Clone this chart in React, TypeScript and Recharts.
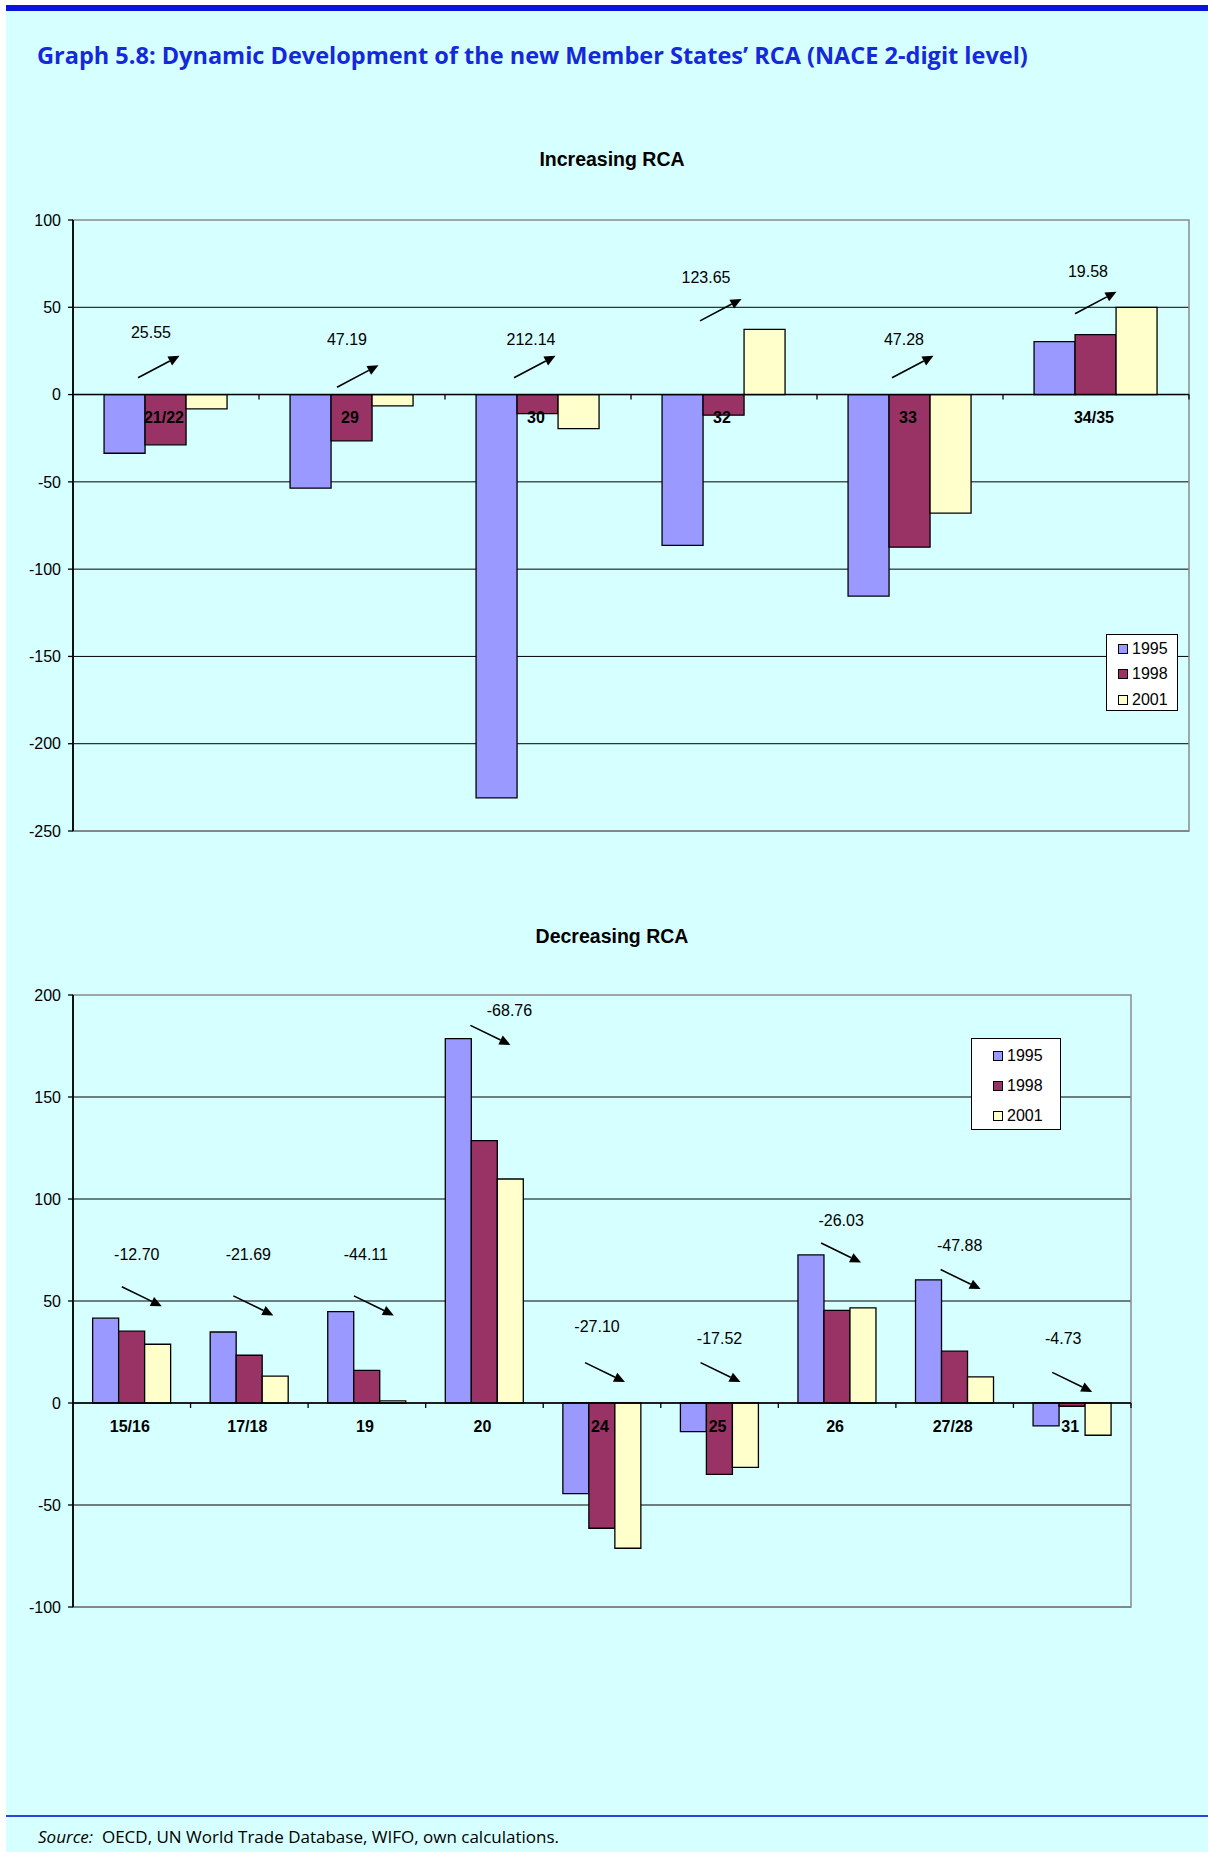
import React from 'react';
import { BarChart, Bar, XAxis, YAxis, CartesianGrid, ReferenceLine, ReferenceDot, ReferenceArea, Legend } from 'recharts';

// Increasing RCA
const incCategories = ['21/22', '29', '30', '32', '33', '34/35'];
const inc1995 = [-33.6, -53.6, -231, -86.4, -115.4, 30.3];
const inc1998 = [-28.8, -26.5, -10.9, -11.8, -87.4, 34.3];
const inc2001 = [-8.2, -6.5, -19.5, 37.4, -67.9, 50];
const incChange = ['25.55', '47.19', '212.14', '123.65', '47.28', '19.58'];
const incTextY = [35.3, 31.4, 31.4, 67.3, 31.4, 70.7];
const incArrowY = [9.6, 4.2, 9.6, 42.2, 9.6, 46.3];
const incTicks = [100, 50, 0, -50, -100, -150, -200, -250];

// Decreasing RCA
const decCategories = ['15/16', '17/18', '19', '20', '24', '25', '26', '27/28', '31'];
const dec1995 = [41.6, 34.8, 44.8, 178.6, -44.4, -14, 72.6, 60.4, -11.2];
const dec1998 = [35.2, 23.4, 16, 128.6, -61.4, -35, 45.4, 25.4, -1.6];
const dec2001 = [28.8, 13.2, 1.0, 109.8, -71.2, -31.6, 46.6, 12.8, -15.8];
const decChange = ['-12.70', '-21.69', '-44.11', '-68.76', '-27.10', '-17.52', '-26.03', '-47.88', '-4.73'];
const decTextY = [72.8, 72.8, 72.8, 192.2, 37.6, 31.4, 89.7, 77.2, 31.4];
const decArrowY = [57, 52.5, 52.5, 185.1, 19.8, 19.8, 78.4, 65.4, 15];
const decTicks = [200, 150, 100, 50, 0, -50, -100];

// small horizontal nudges of the arrows / change labels (px from category centre)
const incTailDx = [-28, -15, -24, -24, -18, -21];
const incTextDx = [-15, -5, -7, -18, -6, -8];
const decTailDx = [-10, -16, -13, -14, -17, -19, -16, -14, -20];
const decTextDx = [5, -1, -1, 25, -5, 0, 4, 5, -9];

const years = ['1995', '1998', '2001'];
const colors: Record<string, string> = { '1995': '#9999ff', '1998': '#993366', '2001': '#ffffcc' };

const FONT = '"Liberation Sans", Arial, sans-serif';
const HEAD_FONT = '"Open Sans", "Noto Sans", sans-serif';

const arrowShape = (dx: number, vx: number, vy: number) => (p: any) => {
  const x1 = p.cx + dx;
  const y1 = p.cy;
  const x2 = x1 + vx;
  const y2 = y1 + vy;
  const len = Math.hypot(vx, vy);
  const ux = vx / len;
  const uy = vy / len;
  const hl = 11;
  const hw = 5;
  const bx = x2 - ux * hl;
  const by = y2 - uy * hl;
  return (
    <g>
      <line x1={x1} y1={y1} x2={bx} y2={by} stroke="#000" strokeWidth={1.6} />
      <polygon points={`${x2},${y2} ${bx - uy * hw},${by + ux * hw} ${bx + uy * hw},${by - ux * hw}`} fill="#000" />
    </g>
  );
};

const textShape = (dx: number, label: string) => (p: any) => (
  <text x={p.cx + dx} y={p.cy} textAnchor="middle" dominantBaseline="central" fontSize={16} fontFamily={FONT} fill="#000">
    {label}
  </text>
);

const catShape = (label: string, band: number) => (p: any) => (
  <g>
    <line x1={p.cx + band / 2} y1={p.cy} x2={p.cx + band / 2} y2={p.cy + 5} stroke="#000" strokeWidth={1.3} />
    <text x={p.cx - 2} y={p.cy + 23} textAnchor="middle" dominantBaseline="central" fontSize={16} fontWeight="bold" fontFamily={FONT} fill="#000">
      {label}
    </text>
  </g>
);

interface LegendBox {
  left: number;
  top: number;
  width: number;
  height: number;
  padTop: number;
  row: number;
  padLeft: number;
}

const makeLegend = (box: LegendBox) => (props: any) => (
  <div
    style={{
      width: box.width,
      height: box.height,
      boxSizing: 'border-box',
      background: '#fff',
      border: '1.5px solid #000',
      paddingTop: box.padTop,
      paddingLeft: box.padLeft,
      fontFamily: FONT,
      fontSize: 16,
      color: '#000',
    }}
  >
    {(props.payload || []).map((e: any) => (
      <div key={e.value} style={{ display: 'flex', alignItems: 'center', height: box.row }}>
        <span
          style={{
            display: 'inline-block',
            width: 8,
            height: 8,
            background: colors[e.value],
            border: '1px solid #000',
            marginRight: 4,
          }}
        />
        {e.value}
      </div>
    ))}
  </div>
);

interface RcaProps {
  top: number;
  height: number;
  title: string;
  titleTop: number;
  categories: string[];
  s1995: number[];
  s1998: number[];
  s2001: number[];
  change: string[];
  textY: number[];
  arrowY: number[];
  tailDx: number[];
  textDx: number[];
  ticks: number[];
  margin: { top: number; right: number; bottom: number; left: number };
  arrow: [number, number];
  legend: LegendBox;
}

const WIDTH = 1208;
const Y_WIDTH = 60;

function RcaChart(p: RcaProps) {
  const data = p.categories.map((c, i) => ({ cat: c, '1995': p.s1995[i], '1998': p.s1998[i], '2001': p.s2001[i] }));
  const plotW = WIDTH - p.margin.left - p.margin.right - Y_WIDTH;
  const band = plotW / p.categories.length;
  const lo = p.ticks[p.ticks.length - 1];
  const hi = p.ticks[0];
  return (
    <div style={{ position: 'absolute', left: 0, top: p.top, width: WIDTH, height: p.height }}>
      <div
        style={{
          position: 'absolute',
          left: 0,
          width: 1224,
          top: p.titleTop - 12,
          height: 24,
          lineHeight: '24px',
          textAlign: 'center',
          fontFamily: FONT,
          fontWeight: 'bold',
          fontSize: 19.5,
          color: '#000',
        }}
      >
        {p.title}
      </div>
      <BarChart width={WIDTH} height={p.height} data={data} margin={p.margin} barCategoryGap="16.7%" barGap={0}>
        <ReferenceArea y1={lo} y2={hi} fill="none" stroke="#8a8a8a" strokeWidth={1.5} />
        <CartesianGrid horizontal vertical={false} stroke="#000" strokeWidth={1} horizontalValues={p.ticks.slice(1)} />
        <XAxis dataKey="cat" type="category" hide />
        <YAxis
          type="number"
          domain={[lo, hi]}
          ticks={p.ticks}
          interval={0}
          width={Y_WIDTH}
          tickSize={5}
          tickMargin={7}
          tick={{ fill: '#000', fontSize: 16, fontFamily: FONT }}
          tickLine={{ stroke: '#000', strokeWidth: 1.3 }}
          axisLine={{ stroke: '#000', strokeWidth: 1.8 }}
        />
        <Legend
          layout="horizontal"
          align="center"
          verticalAlign="middle"
          wrapperStyle={{ left: p.legend.left, top: p.legend.top, width: p.legend.width }}
          content={makeLegend(p.legend)}
        />
        {years.map(y => (
          <Bar key={y} dataKey={y} name={y} fill={colors[y]} stroke="#000" strokeWidth={1.3} isAnimationActive={false} />
        ))}
        <ReferenceLine y={0} stroke="#000" strokeWidth={1.5} />
        {p.categories.map(c => (
          <ReferenceDot key={'c' + c} x={c} y={0} r={1} shape={catShape(c, band)} />
        ))}
        {p.categories.map((c, i) => (
          <ReferenceDot key={'a' + c} x={c} y={p.arrowY[i]} r={1} shape={arrowShape(p.tailDx[i], p.arrow[0], p.arrow[1])} />
        ))}
        {p.categories.map((c, i) => (
          <ReferenceDot key={'t' + c} x={c} y={p.textY[i]} r={1} shape={textShape(p.textDx[i], p.change[i])} />
        ))}
      </BarChart>
    </div>
  );
}

export default function App() {
  return (
    <div style={{ position: 'absolute', left: 0, top: 0, width: 1208, height: 1852, background: '#fff', overflow: 'hidden' }}>
      <div style={{ position: 'absolute', left: 6, top: 11, width: 1202, height: 1841, background: '#d6ffff' }} />
      <div style={{ position: 'absolute', left: 6, top: 5, width: 1202, height: 6, background: '#0a14dc' }} />
      <div
        style={{
          position: 'absolute',
          left: 37,
          top: 39,
          height: 32,
          lineHeight: '32px',
          fontFamily: HEAD_FONT,
          fontWeight: 700,
          fontSize: 23.5,
          color: '#1428dc',
          whiteSpace: 'nowrap',
        }}
      >
        Graph 5.8: Dynamic Development of the new Member States’ RCA (NACE 2-digit level)
      </div>

      <RcaChart
        top={0}
        height={880}
        title="Increasing RCA"
        titleTop={159}
        categories={incCategories}
        s1995={inc1995}
        s1998={inc1998}
        s2001={inc2001}
        change={incChange}
        textY={incTextY}
        arrowY={incArrowY}
        tailDx={incTailDx}
        textDx={incTextDx}
        ticks={incTicks}
        margin={{ top: 220, right: 19, bottom: 49, left: 13 }}
        arrow={[41.5, -22]}
        legend={{ left: 1106, top: 634, width: 72, height: 77, padTop: 1, row: 25.6, padLeft: 11 }}
      />

      <RcaChart
        top={900}
        height={760}
        title="Decreasing RCA"
        titleTop={36}
        categories={decCategories}
        s1995={dec1995}
        s1998={dec1998}
        s2001={dec2001}
        change={decChange}
        textY={decTextY}
        arrowY={decArrowY}
        tailDx={decTailDx}
        textDx={decTextDx}
        ticks={decTicks}
        margin={{ top: 95, right: 77, bottom: 53, left: 13 }}
        arrow={[40, 19.5]}
        legend={{ left: 971, top: 138, width: 90, height: 92, padTop: 2, row: 30, padLeft: 21 }}
      />

      <div style={{ position: 'absolute', left: 6, top: 1815, width: 1202, height: 1.5, background: '#2a44e0' }} />
      <div
        style={{
          position: 'absolute',
          left: 38,
          top: 1825,
          height: 24,
          lineHeight: '24px',
          fontFamily: HEAD_FONT,
          fontSize: 17,
          color: '#000',
          whiteSpace: 'nowrap',
        }}
      >
        <i>Source:</i>&nbsp;&nbsp;OECD, UN World Trade Database, WIFO, own calculations.
      </div>
    </div>
  );
}
